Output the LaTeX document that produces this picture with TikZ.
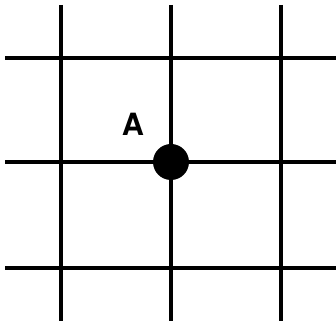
\documentclass[tikz,border=0pt]{standalone}
\usepackage{fontspec}
\setsansfont{TeX Gyre Heros}
\usepackage{tikz}
\usetikzlibrary{positioning}

\begin{document}
\begin{tikzpicture}[x=0.75pt, y=-0.75pt,
  gridline/.style={line width=2.3pt, black},
  dotnode/.style={circle, fill=black, inner sep=0pt, minimum size=27pt}]
\useasboundingbox (0,0) rectangle (336,327);
% --- grid ---
\foreach \gx in {61,171,281} \draw[gridline] (\gx,5) -- (\gx,321);
\foreach \gy in {58,162,268} \draw[gridline] (5,\gy) -- (336,\gy);
% --- point A ---
\node[dotnode] (pA) at (171,162) {};
\node[font=\sffamily\bfseries\fontsize{23}{23}\selectfont] (lblA) at (133,124) {A};
\end{tikzpicture}
\end{document}
